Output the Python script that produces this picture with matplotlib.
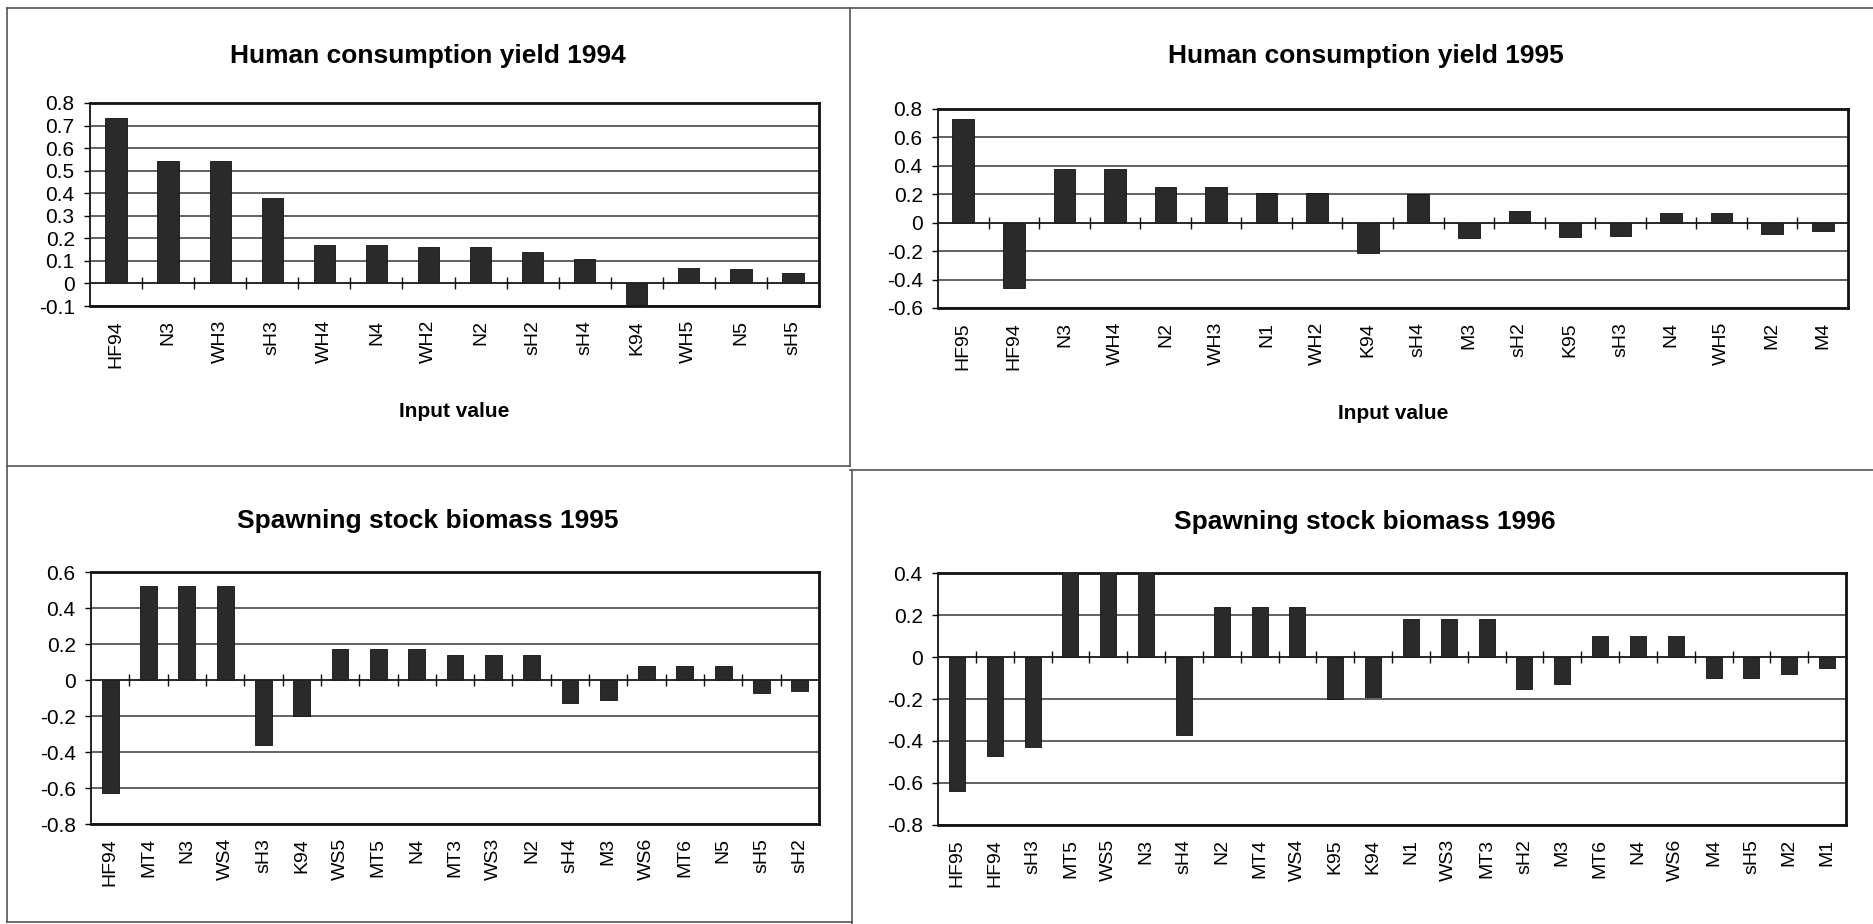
import numpy as np
import matplotlib.pyplot as plt
from matplotlib.lines import Line2D

plt.rcParams['font.family'] = ['Liberation Sans', 'DejaVu Sans']

hcy94_labels = ["HF94", "N3", "WH3", "sH3", "WH4", "N4", "WH2", "N2", "sH2", "sH4", "K94", "WH5", "N5", "sH5"]
hcy94_values = [0.735, 0.545, 0.545, 0.38, 0.17, 0.17, 0.16, 0.16, 0.14, 0.11, -0.09, 0.07, 0.065, 0.045]

hcy95_labels = ["HF95", "HF94", "N3", "WH4", "N2", "WH3", "N1", "WH2", "K94", "sH4",
                "M3", "sH2", "K95", "sH3", "N4", "WH5", "M2", "M4"]
hcy95_values = [0.73, -0.46, 0.38, 0.38, 0.25, 0.25, 0.21, 0.21, -0.21, 0.2,
                -0.11, 0.08, -0.10, -0.09, 0.07, 0.07, -0.08, -0.06]

ssb95_labels = ["HF94", "MT4", "N3", "WS4", "sH3", "K94", "WS5", "MT5", "N4", "MT3",
                "WS3", "N2", "sH4", "M3", "WS6", "MT6", "N5", "sH5", "sH2"]
ssb95_values = [-0.63, 0.52, 0.52, 0.52, -0.36, -0.20, 0.17, 0.17, 0.17, 0.14,
                0.14, 0.14, -0.13, -0.11, 0.08, 0.08, 0.08, -0.07, -0.06]

ssb96_labels = ["HF95", "HF94", "sH3", "MT5", "WS5", "N3", "sH4", "N2", "MT4", "WS4", "K95", "K94",
                "N1", "WS3", "MT3", "sH2", "M3", "MT6", "N4", "WS6", "M4", "sH5", "M2", "M1"]
ssb96_values = [-0.64, -0.47, -0.43, 0.45, 0.45, 0.45, -0.37, 0.24, 0.24, 0.24, -0.20, -0.19,
                0.18, 0.18, 0.18, -0.15, -0.13, 0.10, 0.10, 0.10, -0.10, -0.10, -0.08, -0.05]

W, H = 1873, 924


def box(l, r, t, b):
    return [l / W, 1 - b / H, (r - l) / W, (b - t) / H]


def f1(t):
    s = f"{t:.1f}"
    if s in ("0.0", "-0.0"):
        return "0"
    return s


def bar_panel(fig, rect, labels, values, title, ylim, step, width, title_pad, xlabel=None):
    ax = fig.add_axes(rect)
    x = np.arange(len(labels))
    ax.bar(x, values, width=width, color='#2a2a2a', edgecolor='#111111', linewidth=0.6, zorder=3)
    ax.set_xlim(-0.5, len(labels) - 0.5)
    ax.set_ylim(*ylim)
    ticks = np.arange(ylim[0], ylim[1] + step / 2, step)
    ax.set_yticks(ticks)
    ax.set_yticklabels([f1(t) for t in ticks], fontsize=15)
    ax.yaxis.grid(True, color='#484848', linewidth=1.2, zorder=0)
    ax.set_xticks(x)
    ax.set_xticklabels(labels, rotation=90, fontsize=14)
    ax.tick_params(axis='x', length=0, pad=10)
    ax.tick_params(axis='y', length=4, width=1, pad=7)
    for s in ax.spines.values():
        s.set_linewidth(2.0)
        s.set_color('#111111')
    ax.spines['left'].set_linewidth(1.3)
    ax.axhline(0, color='#222222', linewidth=1.2, zorder=4)
    bounds = np.arange(len(labels) + 1) - 0.5
    ax.plot(bounds[1:-1], np.zeros(len(bounds) - 2), linestyle='none', marker='|',
            markersize=9, markeredgewidth=1.0, color='#111111', zorder=4)
    # title is centred on the whole chart area (tick labels included)
    tx = 0.5 - 27 / (rect[2] * W)
    ax.set_title(title, fontsize=19, fontweight='bold', pad=title_pad, x=tx)
    if xlabel:
        ax.set_xlabel(xlabel, fontsize=15, fontweight='bold', labelpad=25)
    return ax


fig = plt.figure(figsize=(18.73, 9.24), dpi=100)

bar_panel(fig, box(90, 819, 103, 306), hcy94_labels, hcy94_values,
          "Human consumption yield 1994", (-0.1, 0.8), 0.1, 0.41, 29, "Input value")
bar_panel(fig, box(938, 1848, 109, 308), hcy95_labels, hcy95_values,
          "Human consumption yield 1995", (-0.6, 0.8), 0.2, 0.43, 33, "Input value")
bar_panel(fig, box(91, 819, 572, 824), ssb95_labels, ssb95_values,
          "Spawning stock biomass 1995", (-0.8, 0.6), 0.2, 0.44, 32)
bar_panel(fig, box(938, 1846, 573, 825), ssb96_labels, ssb96_values,
          "Spawning stock biomass 1996", (-0.8, 0.4), 0.2, 0.42, 32)

# panel frames of the scanned page
lc = '#555555'
for xs, ys in [((7, 1873), (8, 8)), ((850, 850), (8, 466)), ((7, 850), (466, 466)),
               ((850, 1873), (470, 470)), ((852, 852), (470, 924)), ((7, 7), (8, 922)),
               ((7, 852), (922, 922))]:
    fig.add_artist(Line2D([x / W for x in xs], [1 - y / H for y in ys],
                          color=lc, linewidth=1.2, transform=fig.transFigure))

fig.savefig("out.png", dpi=100)
